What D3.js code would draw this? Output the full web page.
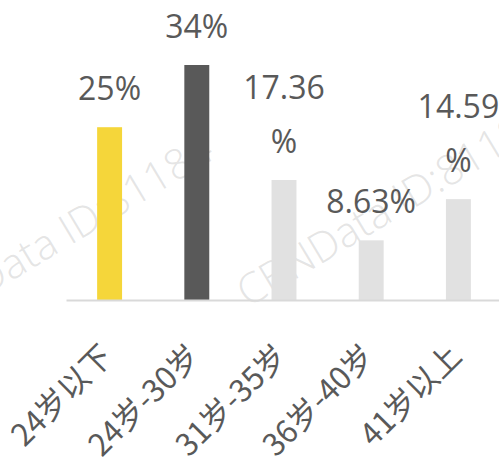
<!DOCTYPE html>
<html>
<head>
<meta charset="utf-8">
<script src="https://cdn.jsdelivr.net/npm/d3@7"></script>
<style>
    body { margin: 0; background: #fff; }
    svg { display: block; }
</style>
</head>
<body>
<div id="chart"></div>
<script>
const categories = ["24岁以下", "24岁-30岁", "31岁-35岁", "36岁-40岁", "41岁以上"];
const values = [25, 34, 17.36, 8.63, 14.59];
// data labels as they wrap in the original
const valueLabels = [["25%"], ["34%"], ["17.36", "%"], ["8.63%"], ["14.59", "%"]];

const width = 499;
const height = 459;
const baseY = 300;

const svg = d3.select("#chart")
    .append("svg")
    .attr("width", width)
    .attr("height", height);

// faint watermark
const wm = svg.append("g")
    .attr("fill", "#c4c4c4")
    .attr("fill-opacity", 0.45)
    .style("font-family", "'Open Sans', sans-serif")
    .style("font-size", "42px")
    .style("font-weight", 300);
wm.append("text")
    .attr("text-anchor", "end")
    .attr("transform", "translate(216,158) rotate(-31)")
    .text("CBNData ID:81184");
wm.append("text")
    .attr("transform", "translate(248,308) rotate(-31)")
    .text("CBNData ID:81184");

const x = d3.scaleBand()
    .domain(categories)
    .range([66, 502])
    .paddingInner(0.714)
    .paddingOuter(0.357);

const y = d3.scaleLinear()
    .domain([0, 34])
    .range([baseY, 65]);

const color = d3.scaleOrdinal()
    .domain(categories)
    .range(["#F5D63A", "#595959", "#E1E1E1", "#E1E1E1", "#E1E1E1"]);

svg.selectAll("rect.bar")
    .data(values)
    .enter()
    .append("rect")
    .attr("class", "bar")
    .attr("x", (d, i) => x(categories[i]))
    .attr("y", d => y(d))
    .attr("width", x.bandwidth())
    .attr("height", d => baseY - y(d))
    .attr("fill", (d, i) => color(categories[i]));

// x axis
const axis = svg.append("g")
    .attr("transform", `translate(0,${baseY})`)
    .call(d3.axisBottom(x).tickSize(0).tickPadding(0));

axis.select(".domain")
    .attr("stroke", "#D9D9D9")
    .attr("stroke-width", 2);

axis.selectAll(".tick text")
    .attr("x", 0)
    .attr("y", 0)
    .attr("dy", 0)
    .attr("text-anchor", "end")
    .attr("transform", "translate(5,58) rotate(-45)")
    .attr("fill", "#595959")
    .style("font-family", "'Noto Sans CJK SC', sans-serif")
    .style("font-size", "31px");

// value labels
const lineGap = 54;
const labels = svg.selectAll("text.val")
    .data(values)
    .enter()
    .append("text")
    .attr("class", "val")
    .attr("text-anchor", "middle")
    .attr("fill", "#595959")
    .style("font-family", "'Open Sans', sans-serif")
    .style("font-size", "32px");

labels.each(function(d, i) {
    const lines = valueLabels[i];
    const cx = x(categories[i]) + x.bandwidth() / 2;
    const top = y(d) - 27 - (lines.length - 1) * lineGap;
    d3.select(this).selectAll("tspan")
        .data(lines)
        .enter()
        .append("tspan")
        .attr("x", cx)
        .attr("y", (t, j) => top + j * lineGap)
        .text(t => t);
});
</script>
</body>
</html>
